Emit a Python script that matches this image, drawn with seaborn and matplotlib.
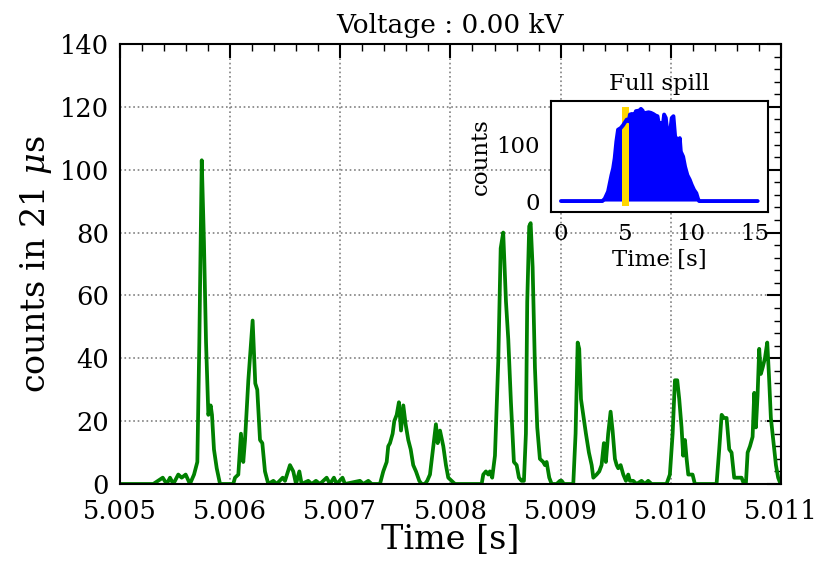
import numpy as np
import pandas as pd
import matplotlib
matplotlib.use('Agg')
import matplotlib.pyplot as plt
from matplotlib.ticker import AutoMinorLocator, MultipleLocator, FormatStrFormatter
import seaborn as sns

# zoomed window: time offset from 5.005 s (in microseconds) and counts per 21 us bin
zoom_us = [0, 302, 388, 424, 454, 484, 529, 560, 596, 635, 672, 702, 720, 742, 762, 781, 802, 823, 835, 853, 878, 908,
           1028, 1044, 1074, 1098, 1119, 1135, 1165, 1204, 1228, 1246, 1271, 1292, 1316, 1346, 1392, 1422, 1477, 1498,
           1543, 1573, 1598, 1628, 1649, 1709, 1740, 1779, 1815, 1876, 1906, 1942, 1967, 2020, 2042, 2178, 2209, 2254,
           2285, 2360, 2390, 2421, 2435, 2451, 2475, 2490, 2512, 2532, 2551, 2572, 2593, 2617, 2639, 2662, 2687, 2717,
           2738, 2768, 2789, 2814, 2838, 2868, 2884, 2905, 2935, 2959, 2980, 3010, 3041, 3283, 3298, 3322, 3343, 3358,
           3379, 3404, 3434, 3456, 3479, 3504, 3525, 3549, 3576, 3601, 3622, 3646, 3667, 3685, 3697, 3715, 3728, 3746,
           3767, 3788, 3812, 3842, 3858, 3873, 3897, 3919, 3964, 3994, 4010, 4030, 4115, 4136, 4155, 4169, 4185, 4205,
           4230, 4257, 4282, 4297, 4327, 4351, 4372, 4393, 4411, 4432, 4454, 4472, 4493, 4509, 4523, 4545, 4569, 4593,
           4614, 4629, 4659, 4690, 4735, 4765, 4795, 4826, 4962, 4992, 5017, 5038, 5059, 5077, 5098, 5113, 5129, 5144,
           5159, 5180, 5198, 5219, 5416, 5440, 5462, 5483, 5507, 5531, 5552, 5576, 5598, 5622, 5643, 5664, 5682, 5698,
           5719, 5743, 5758, 5773, 5788, 5803, 5818, 5834, 5855, 5876, 5891, 5909, 5930, 5955, 5975, 5997]
zoom_counts = [0, 0, 2, 0, 2, 0, 3, 2, 3, 0, 3, 7, 45, 103, 77, 45, 22, 25, 22, 11, 5, 0,
               0, 2, 3, 16, 7, 14, 33, 52, 32, 30, 14, 13, 4, 0, 1, 0, 2, 1,
               6, 4, 0, 4, 0, 1, 0, 1, 0, 2, 0, 2, 0, 2, 0, 1, 0, 1,
               0, 0, 4, 7, 12, 13, 16, 20, 22, 26, 17, 25, 19, 14, 11, 6, 4, 1,
               0, 0, 1, 3, 10, 19, 13, 17, 12, 6, 2, 1, 0, 0, 3, 4, 3, 4,
               2, 9, 39, 75, 80, 58, 46, 26, 7, 6, 2, 1, 1, 16, 58, 82, 83, 69,
               37, 18, 8, 7, 6, 7, 2, 0, 0, 1, 1, 0, 0, 16, 45, 43, 27, 22,
               16, 10, 6, 2, 3, 4, 6, 13, 7, 16, 23, 17, 8, 6, 5, 6, 3, 1,
               3, 1, 1, 0, 1, 0, 1, 0, 0, 3, 16, 33, 33, 27, 18, 9, 14, 8,
               3, 3, 3, 0, 0, 11, 22, 21, 21, 11, 10, 2, 2, 2, 2, 0, 0, 10,
               12, 15, 29, 18, 28, 43, 35, 37, 40, 45, 35, 21, 14, 6, 2, 0]

# full spill
spill_t = [0, 3.2, 3.38, 3.64, 3.9, 4.03, 4.15, 4.28, 4.41, 4.62, 4.8, 5.08, 5.23, 5.33, 5.49, 5.67, 5.79, 6.05,
           6.18, 6.31, 6.44, 6.56, 6.77, 6.95, 7.13, 7.33, 7.46, 7.59, 7.72, 7.85, 7.97, 8.1, 8.23, 8.41, 8.56, 8.69,
           8.82, 9.0, 9.08, 9.18, 9.26, 9.44, 9.59, 9.77, 9.95, 10.1, 10.28, 10.46, 10.59, 10.67, 15.2]
spill_counts = [0, 0, 4, 17, 46, 58, 76, 106, 127, 130, 135, 145, 142, 154, 155, 152, 160, 161,
                164, 161, 152, 157, 158, 157, 155, 152, 151, 133, 139, 130, 154, 148, 121, 119, 148, 151,
                115, 109, 94, 112, 88, 79, 61, 46, 38, 29, 20, 14, 4, 0, 0]
window_start = 5.0

zoom = pd.DataFrame({'time': 5.005 + np.array(zoom_us) * 1e-6, 'counts': zoom_counts})
spill = pd.DataFrame({'time': spill_t, 'counts': spill_counts})

sns.set_style('white')
plt.rcParams['font.family'] = ['DejaVu Serif']
plt.rcParams['mathtext.fontset'] = 'dejavuserif'
for k in ['text.color', 'axes.labelcolor', 'xtick.color', 'ytick.color']:
    plt.rcParams[k] = 'black'

fig = plt.figure(figsize=(8.22, 5.61), dpi=100)
ax = fig.add_axes([0.146, 0.1373, 0.804, 0.7843])

sns.lineplot(data=zoom, x='time', y='counts', color='green', lw=2.7, ax=ax)
ax.set_xlim(5.005, 5.011)
ax.set_ylim(0, 140)
ax.xaxis.set_major_locator(MultipleLocator(0.001))
ax.xaxis.set_major_formatter(FormatStrFormatter('%.3f'))
ax.xaxis.set_minor_locator(AutoMinorLocator(5))
ax.yaxis.set_major_locator(MultipleLocator(20))
ax.yaxis.set_minor_locator(AutoMinorLocator(5))
ax.tick_params(which='both', direction='in', top=True, right=True)
ax.tick_params(which='major', length=10, width=1.5, labelsize=18.5)
ax.tick_params(axis='x', which='major', pad=11)
ax.tick_params(axis='y', which='major', pad=8)
ax.tick_params(which='minor', length=5, width=1)
ax.grid(True, which='major', ls=':', color='gray', lw=1.2)
for s in ax.spines.values():
    s.set_linewidth(1.5)
    s.set_color('black')
ax.set_xlabel('Time [s]', fontsize=24, labelpad=0)
ax.set_ylabel(r'counts in 21 $\mu$s', fontsize=24)
ax.set_title('Voltage : 0.00 kV', fontsize=19, pad=8)

# inset
ins = fig.add_axes([0.6703, 0.6226, 0.2636, 0.1973])
ins.fill_between(spill['time'], spill['counts'], color='blue', lw=0)
sns.lineplot(data=spill, x='time', y='counts', color='blue', lw=2.8, ax=ins)
ins.fill_betweenx([-8, 168], window_start - 0.25, window_start + 0.25, color='gold', lw=0)
ins.set_xlim(-0.77, 15.97)
ins.set_ylim(-19, 178)
ins.set_xticks([0, 5, 10, 15])
ins.set_yticks([0, 100])
ins.tick_params(direction='out', length=5, width=1.5, labelsize=16.5, pad=3)
for s in ins.spines.values():
    s.set_linewidth(1.5)
    s.set_color('black')
ins.set_xlabel('Time [s]', fontsize=16.5, labelpad=3)
ins.set_ylabel('counts', fontsize=16.5, labelpad=3)
ins.set_title('Full spill', fontsize=16.5, pad=8)

fig.savefig('out.png', dpi=100)
